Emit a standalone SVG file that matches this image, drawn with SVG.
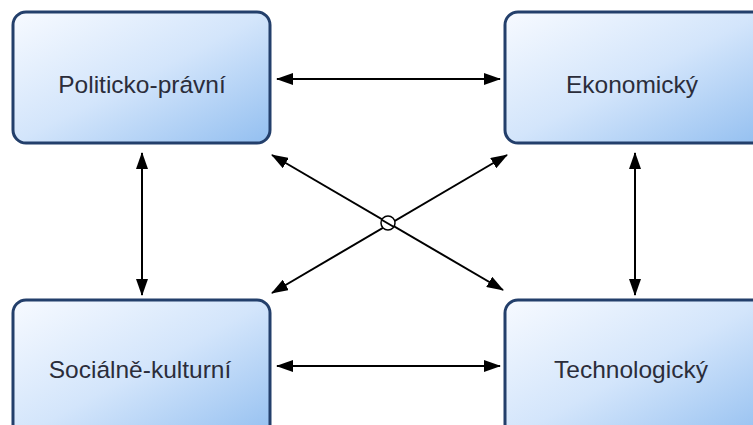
<svg xmlns="http://www.w3.org/2000/svg" width="753" height="425" viewBox="0 0 753 425">
  <defs>
    <linearGradient id="boxGrad" x1="0" y1="0" x2="1" y2="1">
      <stop offset="0" stop-color="#f7faff"/>
      <stop offset="0.5" stop-color="#d3e5fb"/>
      <stop offset="1" stop-color="#93bff0"/>
    </linearGradient>
    <marker id="arrow" viewBox="0 0 17 12" refX="16" refY="6" markerWidth="17" markerHeight="12" markerUnits="userSpaceOnUse" orient="auto-start-reverse">
      <path d="M0,0 L17,6 L0,12 Z" fill="#000"/>
    </marker>
  </defs>
  <style>
    .box { fill: url(#boxGrad); stroke: #233f6b; stroke-width: 3; }
    .label { font-family: "Liberation Sans", Arial, sans-serif; font-size: 24.5px; fill: #2b2d3a; text-anchor: middle; }
    .conn { stroke: #000; stroke-width: 2; fill: none; }
  </style>
  <rect width="753" height="425" fill="#ffffff"/>

  <g id="politicko-pravni">
    <rect class="box" x="13" y="12" width="257" height="131" rx="13"/>
    <text class="label" x="142" y="93">Politicko-právní</text>
  </g>
  <g id="ekonomicky">
    <rect class="box" x="505" y="12" width="260" height="131" rx="13"/>
    <text class="label" x="632" y="93">Ekonomický</text>
  </g>
  <g id="socialne-kulturni">
    <rect class="box" x="13" y="300" width="257" height="140" rx="13"/>
    <text class="label" x="140" y="378">Sociálně-kulturní</text>
  </g>
  <g id="technologicky">
    <rect class="box" x="505" y="300" width="260" height="140" rx="13"/>
    <text class="label" x="631" y="378">Technologický</text>
  </g>

  <g id="connectors">
    <line class="conn" x1="277" y1="79" x2="500" y2="79" marker-start="url(#arrow)" marker-end="url(#arrow)"/>
    <line class="conn" x1="277" y1="366" x2="500" y2="366" marker-start="url(#arrow)" marker-end="url(#arrow)"/>
    <line class="conn" x1="142" y1="153" x2="142" y2="295" marker-start="url(#arrow)" marker-end="url(#arrow)"/>
    <line class="conn" x1="635" y1="153" x2="635" y2="295" marker-start="url(#arrow)" marker-end="url(#arrow)"/>
    <line class="conn" x1="272" y1="155" x2="503" y2="290" marker-start="url(#arrow)" marker-end="url(#arrow)"/>
    <line class="conn" x1="272" y1="293" x2="507" y2="155" marker-start="url(#arrow)" marker-end="url(#arrow)"/>
    <circle cx="388" cy="223" r="7" fill="#ffffff" stroke="#000" stroke-width="1.5"/>
    <line class="conn" x1="382" y1="220" x2="394" y2="227" stroke-width="1.5"/>
  </g>
</svg>
